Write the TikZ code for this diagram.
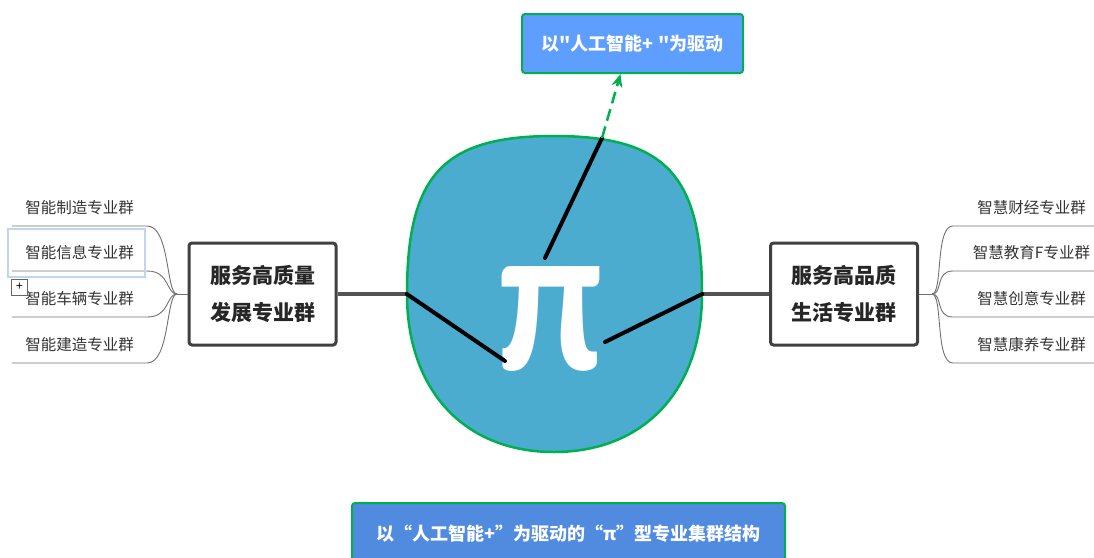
\documentclass[tikz,border=0pt]{standalone}
\usepackage{fontspec}
\setmainfont{Noto Sans CJK SC}[Ligatures=TeXOff]
\newfontfamily\pifont{Carlito}
\usetikzlibrary{positioning,arrows.meta}
\definecolor{pigreen}{HTML}{00B050}
\definecolor{coreblue}{HTML}{4BACD0}
\definecolor{topblue}{HTML}{5E9EFF}
\definecolor{botblue}{HTML}{518BDF}
\definecolor{grpgray}{HTML}{404040}
\definecolor{linkgray}{HTML}{707070}
\definecolor{selblue}{HTML}{BFD5F2}

\begin{document}
\begin{tikzpicture}[x=1pt, y=-1pt,
  grp/.style = {draw=grpgray, line width=3pt, rounded corners=3pt, fill=white, align=center, minimum width=147pt, minimum height=102pt, font=\bfseries\fontsize{21}{37}\selectfont, text=black!85},
  leaf/.style = {minimum height=36pt, inner sep=0pt, anchor=south, font=\fontsize{15.5}{18}\selectfont, text=black!80},
  tag/.style = {draw=pigreen, line width=2pt, rounded corners=3pt, text=white, font=\bfseries\fontsize{18}{20}\selectfont},
  link/.style = {draw=linkgray, line width=0.9pt},
  bar/.style = {black, line width=4pt, line cap=round}]
  \useasboundingbox (0,0) rectangle (1094,557);

  % centre
  \node[minimum width=295pt, minimum height=316pt] (core) at (554.5,294) {};
  \draw[pigreen, line width=2.5pt, fill=coreblue] (554,136) .. controls (665,136) and (702,175) .. (702,294)
    .. controls (702,390) and (644,452) .. (554,452) .. controls (464,452) and (407,390) .. (407,294)
    .. controls (407,175) and (443,136) .. cycle;
  \node[text=white, xscale=0.84, transform shape, font=\pifont\bfseries\fontsize{215}{215}\selectfont] (pi) at (551,319) {π};

  \node[grp] (lgrp) at (262.5,294) {服务高质量\\发展专业群};
  \node[grp] (rgrp) at (844,294) {服务高品质\\生活专业群};
  \node[tag, fill=topblue, minimum width=221pt, minimum height=59pt] (top) at (632.5,43.5) {以"人工智能+ "为驱动};
  \node[tag, fill=botblue, minimum width=433pt, minimum height=62pt] (bot) at (568.5,534) {以“人工智能+”为驱动的“π”型专业集群结构};

  \draw[grpgray!90, line width=3.5pt] (lgrp) -- (core);
  \draw[grpgray!90, line width=3.5pt] (rgrp) -- (core);

  \coordinate (t1) at (545,258);
  \coordinate (t2) at (602,138);
  \coordinate (l0) at (505,361);
  \coordinate (r0) at (605,342);
  \draw[bar] (t1) -- (t2);
  \draw[bar] (core.west) -- (l0);
  \draw[bar] (core.east) -- (r0);
  \draw[pigreen, line width=2.5pt, dash pattern=on 12pt off 6pt, -{Stealth[length=13pt,width=11pt]}] (t2) -- ([xshift=-12pt]top.south);

  % left fan
  \coordinate (lhub) at (177,294);
  \draw[link] (lgrp) -- (lhub);
  \foreach \t/\y [count=\i] in {智能制造专业群/226, 智能信息专业群/271, 智能车辆专业群/317, 智能建造专业群/363} {
    \node[leaf, minimum width=135pt] (l\i) at (79.5,\y) {\t};
    \draw[link] (lhub) .. controls (166,294) and (170,\y) .. (l\i.south east) -- (l\i.south west);
  }
  % right fan
  \coordinate (rhub) at (932,294);
  \draw[link] (rgrp) -- (rhub);
  \foreach \t/\y [count=\i] in {智慧财经专业群/226, 智慧教育F专业群/271, 智慧创意专业群/317, 智慧康养专业群/363} {
    \node[leaf, minimum width=157pt] (r\i) at (1031.5,\y) {\t};
    \draw[link] (rhub) .. controls (943,294) and (935,\y) .. (r\i.south west) -- (r\i.south east);
  }

  \node[draw=selblue, line width=1.5pt, minimum width=137pt, minimum height=48pt] (sel) at (76.5,253) {};
  \node[draw=grpgray!80, fill=white, line width=0.8pt, minimum size=16pt, inner sep=0pt, font=\fontsize{12}{12}\selectfont] (plus) at (19.5,287) {+};
\end{tikzpicture}
\end{document}
